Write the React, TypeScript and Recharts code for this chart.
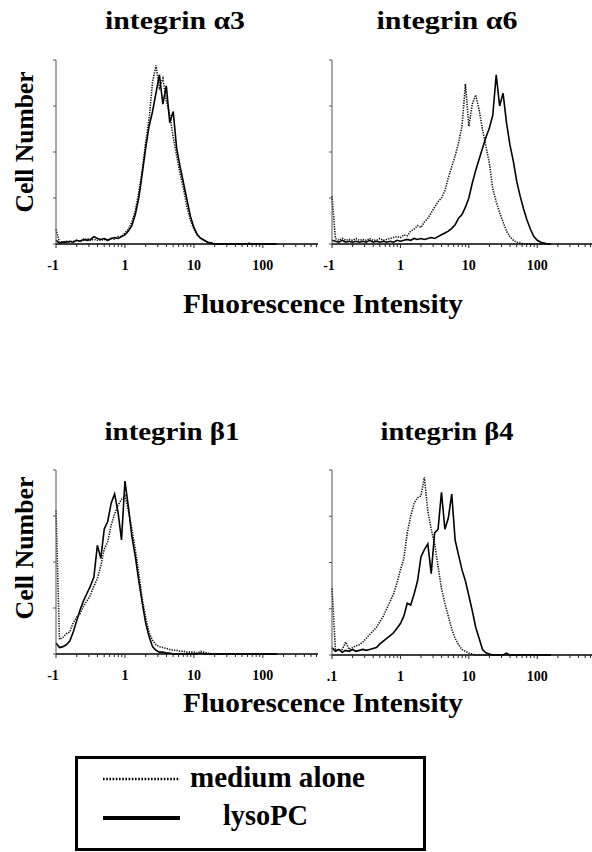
import React from 'react';
import { LineChart, Line, XAxis, YAxis } from 'recharts';

// channel positions in decades (log10 of fluorescence), -1 = 0.1
const LOG_X = [
  -1, -0.95, -0.9, -0.85, -0.8, -0.75, -0.7, -0.65, -0.6, -0.55,
  -0.5, -0.45, -0.4, -0.35, -0.3, -0.25, -0.2, -0.15, -0.1, -0.05,
  0, 0.05, 0.1, 0.15, 0.2, 0.25, 0.3, 0.35, 0.4, 0.45,
  0.5, 0.55, 0.6, 0.65, 0.7, 0.75, 0.8, 0.85, 0.9, 0.95,
  1, 1.05, 1.1, 1.15, 1.2, 1.25, 1.3, 1.35, 1.4, 1.45,
  1.5, 1.55, 1.6, 1.65, 1.7, 1.75, 1.8, 1.85, 1.9, 1.95,
  2, 2.05, 2.1, 2.15, 2.2,
];

// integrin a3
const A3_MEDIUM = [
  8, 1, 1, 1.5, 1, 1.5, 2, 1.5, 2, 3,
  2, 2.5, 2, 2, 2.5, 2, 3, 2.5, 4, 4,
  6, 8, 12, 18, 28, 40, 55, 68, 88, 97,
  85, 90, 78, 70, 58, 48, 38, 30, 20, 13,
  8, 5, 3, 2, 1, 0.5, 0, 0, 0, 0,
  0, 0, 0, 0, 0, 0, 0.5, 0, 0, 0,
  0, 0, 0, 0, 0,
];
const A3_LYSO = [
  2, 0.5, 1, 1, 1.5, 1, 2, 1.5, 2.5, 2,
  2.5, 4, 3, 2.5, 3, 2, 3, 3.5, 3, 4,
  5, 7, 10, 16, 25, 38, 52, 64, 72, 82,
  92, 76, 86, 66, 72, 52, 42, 33, 24, 15,
  9, 5, 3, 2, 1, 0.5, 0, 0, 0, 0,
  0, 0, 0, 0, 0, 0, 0, 0, 0, 0,
  0, 0, 0, 0, 0,
];

// integrin a6
const A6_MEDIUM = [
  26, 3, 2, 3, 2, 2.5, 2, 3, 2, 2.5,
  2, 3, 2, 2, 3, 2, 2.5, 3, 3.5, 4,
  3.5, 5, 4.5, 7, 8, 10, 9, 12, 14, 17,
  20, 23, 25, 29, 36, 42, 48, 55, 64, 87,
  64, 76, 81, 73, 62, 53, 44, 30, 23, 17,
  12, 7, 4, 2, 1, 0.5, 0, 0, 0, 0,
  0, 0, 0, 0, 0,
];
const A6_LYSO = [
  2, 1.5, 1, 2, 1, 1.5, 1, 1.5, 1, 1.5,
  1, 2, 1, 1.5, 1, 1.5, 1, 1.5, 1, 2,
  1.5, 2, 2.5, 2, 3, 2.5, 3, 2.5, 3, 3.5,
  3, 4, 5, 6, 7, 8.5, 10.5, 14, 16, 20,
  25, 33, 40, 46, 52, 58, 63, 70, 92, 75,
  82, 66, 54, 45, 34, 26, 19, 13, 8, 4,
  2, 1, 0.5, 0, 0,
];

// integrin b1
const B1_MEDIUM = [
  78, 8, 9, 11, 12, 17, 20, 22, 26, 29,
  32, 37, 41, 48, 57, 61, 70, 76, 81, 84,
  86, 78, 68, 57, 44, 30, 20, 11.5, 7.5, 5,
  4, 3.5, 3, 2.5, 2, 2, 1.5, 1.5, 1, 1,
  1, 0.5, 1.5, 1, 0.5, 0, 0, 0, 0, 0,
  0, 0, 0, 0, 0, 0, 0, 0, 0, 0,
  0, 0, 0, 0, 0,
];
const B1_LYSO = [
  6, 3.5, 4, 5, 7, 12, 18, 24, 29, 33,
  37, 42, 59, 52, 68, 72, 82, 87, 77, 62,
  94, 80, 64, 53, 40, 28, 17, 9.5, 4, 2,
  1, 1, 0.5, 0.5, 0, 0, 0, 0, 0, 0,
  0, 0, 0.5, 0, 0, 0, 0, 0, 0, 0,
  0, 0, 0, 0, 0, 0, 0, 0, 0, 0,
  0, 0, 0, 0, 0,
];

// integrin b4
const B4_MEDIUM = [
  36, 3, 2.5, 3, 7, 3, 4, 5, 5.5, 7,
  9, 11, 13, 15, 18, 21, 25, 29, 33, 39,
  46, 52, 66, 75, 82, 85, 86, 96, 78, 68,
  60, 48, 36, 28, 21, 14, 9, 5.5, 3, 2,
  1, 0.5, 0, 0, 0, 0, 0, 0, 0, 0,
  0, 0, 0, 0, 0, 0, 0, 0, 0, 0,
  0, 0, 0, 0, 0,
];
const B4_LYSO = [
  4, 2, 3, 1.5, 2.5, 2, 3, 2, 2.5, 3,
  2.5, 3, 3.5, 4, 6, 7.5, 9, 10.5, 12, 14.5,
  17, 21, 28, 27, 33, 40, 53, 57, 60, 44,
  66, 68, 88, 68, 74, 87, 62, 54, 46, 40,
  32, 24, 15, 9, 3, 1.2, 0.5, 0, 0, 0,
  0, 1, 0, 0, 0, 0, 0, 0, 0, 0,
  0, 0, 0, 0, 0,
];

const MAJOR_TICKS = [-1, 0, 1, 2];
const LABELS_STD = ['-1', '1', '10', '100'];
const LABELS_B4 = ['.1', '1', '10', '100'];
const Y_TICKS = [0, 25, 50, 75, 100];

// log minor ticks (2..9 within each decade)
const MINOR_TICKS: number[] = [];
for (let k = -1; k <= 2; k++) {
  for (let m = 2; m <= 9; m++) {
    const v = k + Math.log10(m);
    if (v < 2.8) MINOR_TICKS.push(v);
  }
}
const ALL_TICKS = [...MAJOR_TICKS, ...MINOR_TICKS].sort((a, b) => a - b);

const FONT = '"Liberation Serif", "Times New Roman", serif';

function LogTick(props: any) {
  const { x, y, payload, labels } = props;
  const v = payload.value;
  const major = Number.isInteger(v);
  const label = major ? labels[v + 1] : null;
  return (
    <g>
      <line x1={x} x2={x} y1={y} y2={y + (major ? 4 : 3)} stroke="#222" strokeWidth={1} />
      {label && (
        <text
          x={label === '-1' ? x - 3 : x}
          y={y + 26}
          textAnchor="middle"
          fontFamily={FONT}
          fontWeight="bold"
          fontSize={14}
          fill="#000"
        >
          {label}
        </text>
      )}
    </g>
  );
}

interface PanelProps {
  left: number;
  top: number;
  width: number;
  height: number;
  medium: number[];
  lyso: number[];
  labels: string[];
}

const AXIS_H = 34;
const Y_AXIS_W = 1;

function Panel({ left, top, width, height, medium, lyso, labels }: PanelProps) {
  const data = LOG_X.map((x, i) => ({ x, medium: medium[i], lyso: lyso[i] }));
  const m = { top: 4, right: 0, bottom: 0, left: 19 };
  const offsetLeft = m.left + Y_AXIS_W;
  return (
    <div style={{ position: 'absolute', left: left - offsetLeft, top: top - m.top }}>
      <LineChart
        width={width + offsetLeft + m.right}
        height={height + m.top + AXIS_H}
        data={data}
        margin={m}
      >
        <XAxis
          type="number"
          dataKey="x"
          domain={[-1, 2.8]}
          ticks={ALL_TICKS}
          interval={0}
          tickLine={false}
          tickSize={0}
          tickMargin={0}
          height={AXIS_H}
          stroke="#000"
          strokeWidth={1.3}
          axisLine={{ stroke: '#000', strokeWidth: 1.3 }}
          tick={(p: any) => <LogTick {...p} labels={labels} />}
        />
        <YAxis
          domain={[0, 100]}
          ticks={Y_TICKS}
          width={Y_AXIS_W}
          tickSize={3}
          tickFormatter={() => ''}
          stroke="#555"
          tickLine={{ stroke: '#555' }}
          axisLine={{ stroke: '#555', strokeWidth: 1 }}
        />
        <Line
          type="linear"
          dataKey="medium"
          stroke="#111"
          strokeWidth={1.6}
          strokeDasharray="1.3 1.2"
          dot={false}
          isAnimationActive={false}
        />
        <Line
          type="linear"
          dataKey="lyso"
          stroke="#000"
          strokeWidth={1.6}
          dot={false}
          isAnimationActive={false}
        />
      </LineChart>
    </div>
  );
}

export default function App() {
  const bold = { fontFamily: FONT, fontWeight: 'bold' as const, fill: '#000' };
  return (
    <div
      style={{
        position: 'absolute',
        left: 0,
        top: 0,
        width: 592,
        height: 852,
        background: '#fff',
        overflow: 'hidden',
      }}
    >
      <Panel left={56} top={60} width={262} height={184} medium={A3_MEDIUM} lyso={A3_LYSO} labels={LABELS_STD} />
      <Panel left={332} top={60} width={260} height={184} medium={A6_MEDIUM} lyso={A6_LYSO} labels={LABELS_STD} />
      <Panel left={56} top={470} width={262} height={184} medium={B1_MEDIUM} lyso={B1_LYSO} labels={LABELS_STD} />
      <Panel left={332} top={470} width={260} height={185} medium={B4_MEDIUM} lyso={B4_LYSO} labels={LABELS_B4} />

      <svg width={592} height={852} style={{ position: 'absolute', left: 0, top: 0, pointerEvents: 'none' }}>
        <text x={175} y={29} textAnchor="middle" fontSize={26} textLength={140} lengthAdjust="spacingAndGlyphs" {...bold}>integrin α3</text>
        <text x={447} y={29} textAnchor="middle" fontSize={26} textLength={141} lengthAdjust="spacingAndGlyphs" {...bold}>integrin α6</text>
        <text x={172} y={440} textAnchor="middle" fontSize={26} textLength={135} lengthAdjust="spacingAndGlyphs" {...bold}>integrin β1</text>
        <text x={447} y={440} textAnchor="middle" fontSize={26} textLength={133} lengthAdjust="spacingAndGlyphs" {...bold}>integrin β4</text>

        <text transform="translate(33,142) rotate(-90)" textAnchor="middle" fontSize={25} textLength={141} lengthAdjust="spacingAndGlyphs" {...bold}>Cell Number</text>
        <text transform="translate(33,548) rotate(-90)" textAnchor="middle" fontSize={25} textLength={143} lengthAdjust="spacingAndGlyphs" {...bold}>Cell Number</text>

        <text x={323} y={313} textAnchor="middle" fontSize={28} textLength={280} lengthAdjust="spacingAndGlyphs" {...bold}>Fluorescence Intensity</text>
        <text x={323} y={712} textAnchor="middle" fontSize={28} textLength={280} lengthAdjust="spacingAndGlyphs" {...bold}>Fluorescence Intensity</text>

        <rect x={76.5} y={757.5} width={348} height={92} fill="none" stroke="#000" strokeWidth={3} />
        <line x1={103} x2={180} y1={779} y2={779} stroke="#000" strokeWidth={2.5} strokeDasharray="1.6 1.6" />
        <text x={190} y={787} fontSize={29} textLength={175} lengthAdjust="spacingAndGlyphs" {...bold}>medium alone</text>
        <line x1={103} x2={180} y1={818} y2={818} stroke="#000" strokeWidth={4} />
        <text x={223} y={825} fontSize={29} textLength={85} lengthAdjust="spacingAndGlyphs" {...bold}>lysoPC</text>
      </svg>
    </div>
  );
}
